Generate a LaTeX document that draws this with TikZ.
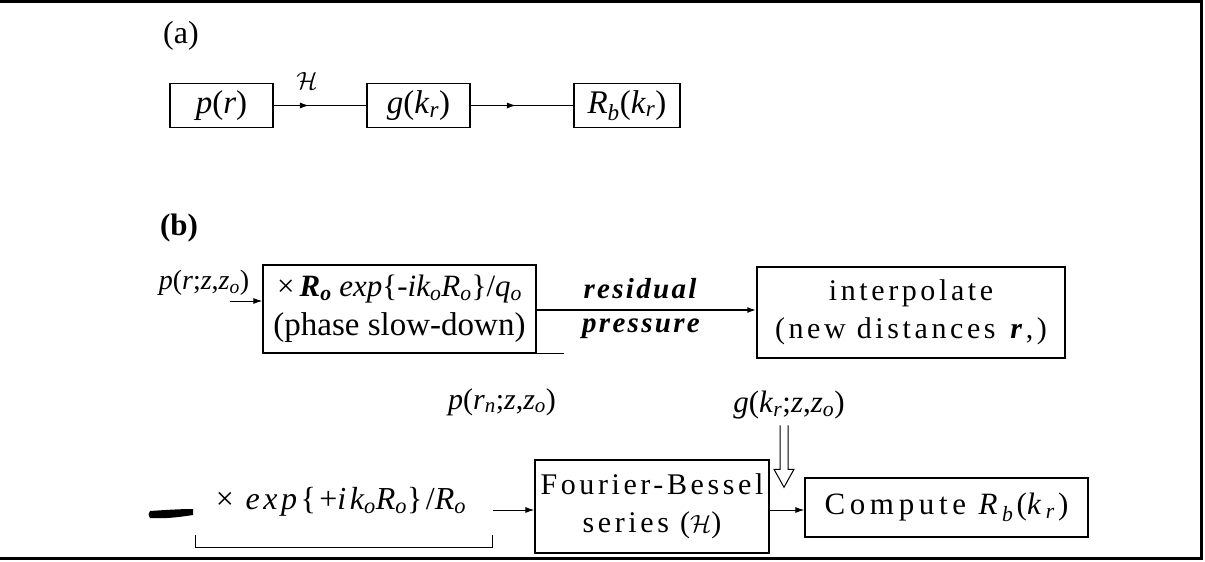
\documentclass[tikz,border=0pt]{standalone}
\usepackage{fontspec}
\setmainfont{Liberation Serif}
\usetikzlibrary{arrows.meta,calc}

% spaced-out text and small italic subscripts
\newcommand\spc[2][12]{{\addfontfeature{LetterSpace=#1}#2}}
\newcommand\lsub[1]{\textsubscript{\textit{#1}}}

\tikzset{
  frame/.style={line width=3pt},
  boxa/.style={draw, line width=1.3pt, inner sep=0pt, minimum height=44pt,
               font=\fontsize{33}{36}\selectfont},
  boxb/.style={draw, line width=1.3pt, inner sep=0pt, align=center,
               font=\fontsize{30}{38}\selectfont},
  lbl/.style={inner sep=0pt, font=\fontsize{28}{34}\selectfont},
  conn/.style={line width=1pt},
  tip/.style={-{Latex[length=9pt,width=6pt]}},
}

\begin{document}
\begin{tikzpicture}[x=1pt,y=-1pt]
\useasboundingbox (0,0) rectangle (1205,562);

% open frame: top, right and bottom rules
\draw[frame] (0,1.5) -- (1201,1.5) -- (1201,558.5) -- (0,558.5);

% ---------------- (a) ----------------
\node[lbl, font=\fontsize{32}{34}\selectfont] (la) at (181,36) {(a)};
\node[boxa, minimum width=103pt] (pa) at (221.5,105.5) {\textit{p}(\textit{r})};
\node[boxa, minimum width=103pt] (ga) at (418.5,105.5) {\textit{g}(\textit{k}\lsub{r})};
\node[boxa, minimum width=106pt] (ra) at (627,105.5) {\textit{R}\lsub{b}(\textit{k}\lsub{r})};

\draw[conn] (pa.east) -- (ga.west);
\draw[conn, tip] (pa.east) -- ($(pa.east)!0.38!(ga.west)$) coordinate (ha);
\node[lbl, font=\fontsize{27}{30}\selectfont] (hl) at ($(ha)+(-2,-25)$) {$\mathcal{H}$};
\draw[conn] (ga.east) -- (ra.west);
\draw[conn, tip] (ga.east) -- ($(ga.east)!0.44!(ra.west)$);

% ---------------- (b) ----------------
\node[lbl, font=\fontsize{31}{34}\selectfont\bfseries] (lb) at (179,228) {(b)};

\node[lbl] (pin) at (204,283) {\textit{p}(\textit{r};\textit{z},\textit{z}\lsub{o})};
\coordinate (pinarr) at (230,301);

\node[boxb, minimum width=273pt, minimum height=88pt, font=\fontsize{33}{39}\selectfont]
  (slow) at (399.5,309)
  {{\fontsize{31}{36}\selectfont ×\,\textbf{\textit{R\lsub{o}}} \textit{exp}\{-\textit{ik\lsub{o}R\lsub{o}}\}/\textit{q\lsub{o}}}\\(phase slow-down)};
\draw[conn, tip] (pinarr) -- (pinarr -| slow.west);
\draw[line width=1.3pt] (slow.south east) -- ++(27,0) coordinate (slowext);

\node[boxb, minimum width=308pt, minimum height=91pt] (interp) at (911,312.5)
  {\spc{interpolate}\\\spc{(new distances \textbf{\textit{r}},)}};

\coordinate (resy) at (slow.east |- 0,310);
\draw[line width=2.2pt, tip] (resy) -- (resy -| interp.west);
\node[lbl, font=\fontsize{29}{34}\selectfont\bfseries\itshape] (res) at (640,289)
  {\spc[8]{residual}};
\node[lbl, font=\fontsize{29}{34}\selectfont\bfseries\itshape] (pres) at (641,329)
  {\spc[8]{pressure}};

\node[lbl, font=\fontsize{30}{34}\selectfont] (prn) at (502,402)
  {\textit{p}(\textit{r}\lsub{n};\textit{z},\textit{z}\lsub{o})};
\node[lbl, font=\fontsize{31}{34}\selectfont] (gk) at (789,405)
  {\textit{g}(\textit{k}\lsub{r};\textit{z},\textit{z}\lsub{o})};

% hollow arrow into the Fourier-Bessel output
\draw[line width=1pt] ($(gk.south)+(-9,6)$) -- ++(0,44) -- ++(-6,0) -- ++(10,18)
  -- ++(10,-18) -- ++(-6,0) -- ++(0,-44);

\node[boxb, minimum width=234pt, minimum height=93pt] (fb) at (652,506.5)
  {\spc{Fourier-Bessel}\\\spc{series ($\mathcal{H}$)}};
\node[boxb, minimum width=283pt, minimum height=59pt, font=\fontsize{31}{38}\selectfont]
  (comp) at (946.5,507.5)
  {\spc[15]{Compute \textit{R}\lsub{b}(\textit{k}\lsub{r})}};
\coordinate (fbout) at (fb.east |- 0,510);
\draw[conn, tip] (fbout) -- (fbout -| comp.west);

\node[lbl, font=\fontsize{32}{34}\selectfont] (mult) at (341,502)
  {\spc[11]{× \textit{exp}\{+\textit{ik\lsub{o}R\lsub{o}}\}/\textit{R\lsub{o}}}};
\coordinate (multarr) at (493,510);
\draw[conn, tip] (multarr) -- (multarr -| fb.west);

% bracket under the multiplier
\coordinate (brl) at (195,535);
\coordinate (brr) at (492,535);
\draw[line width=0.9pt] (brl) -- ++(0,12) -- ($(brr)+(0,12)$) -- (brr);

% ink stroke at the left of the bottom row
\fill (150,511) .. controls (165,510) and (180,509) .. (193,509)
  -- (193,515) .. controls (180,517) and (165,519) .. (150,518)
  .. controls (148,516) and (148,513) .. cycle;
\end{tikzpicture}
\end{document}
